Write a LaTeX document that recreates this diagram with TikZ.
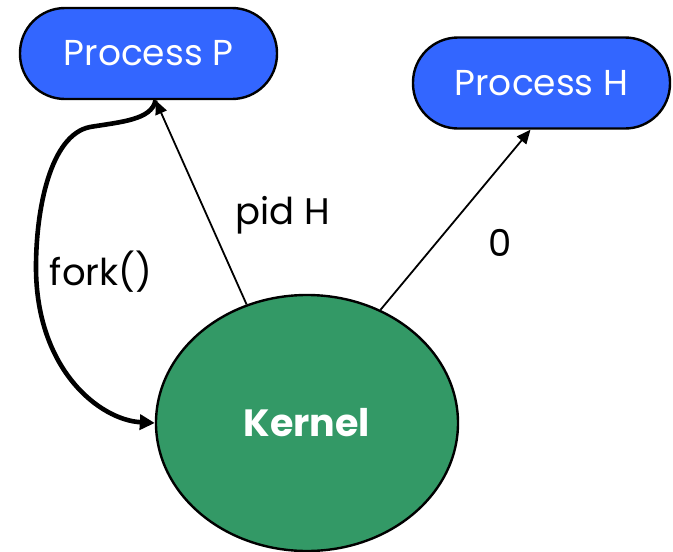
\documentclass[tikz,border=0pt]{standalone}
\usepackage{fontspec}
\setmainfont{Poppins}
\usetikzlibrary{shapes.geometric,arrows.meta}
\definecolor{procblue}{RGB}{51,102,255}
\definecolor{kerngreen}{RGB}{51,153,102}
\tikzset{
  proc/.style={draw=black, line width=2.4pt, fill=procblue, rounded corners=45pt,
    minimum width=257pt, minimum height=91pt, text=white,
    font=\fontsize{36}{40}\selectfont},
  kern/.style={ellipse, draw=black, line width=2.4pt, fill=kerngreen,
    minimum width=302pt, minimum height=256pt, text=white,
    font=\fontsize{38}{42}\selectfont\bfseries},
  thinarrow/.style={line width=1.8pt, -{Triangle[length=14pt,width=12pt]}},
  thickarrow/.style={line width=4.6pt, -{Triangle[length=15pt,width=15pt]}},
  lbl/.style={font=\fontsize{37}{42}\selectfont, inner sep=0pt}
}
\begin{document}
\begin{tikzpicture}[x=1pt,y=-1pt]
  \useasboundingbox (0,0) rectangle (673,552);
  \node[proc] (P) at (148.5,53.5) {Process P};
  \node[proc] (H) at (541.5,83) {Process H};
  \node[kern] (K) at (307,423) {Kernel};
  \coordinate (Pin) at ([xshift=7pt]P.south);
  \coordinate (Hin) at ([xshift=-11pt]H.south);
  % replies from the kernel
  \draw[thinarrow] (K.117) -- (Pin);
  \draw[thinarrow] (K.57) -- (Hin);
  % the fork() call into the kernel
  \draw[thickarrow] (Pin) .. controls (152,120) and (120,122) .. (90,127)
     .. controls (50,135) and (36,210) .. (36,267)
     .. controls (36,370) and (100,420) .. (K.west);
  \node[lbl] (pidlbl) at (283,215) {pid H};
  \node[lbl] (zerolbl) at (500,243) {0};
  \node[lbl] (forklbl) at (101,272) {fork()};
\end{tikzpicture}
\end{document}
